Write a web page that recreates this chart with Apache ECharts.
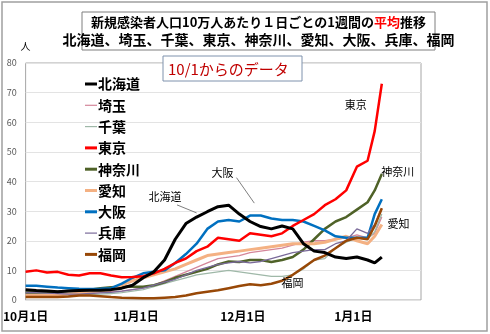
<!DOCTYPE html>
<html><head><meta charset="utf-8">
<script src="https://cdn.jsdelivr.net/npm/echarts@6/dist/echarts.min.js"></script>
<style>html,body{margin:0;padding:0;background:#fff}#c{width:490px;height:334px}</style>
</head><body><div id="c"></div>
<script>
// day index from Oct 1
const days = [0,3,6,9,12,15,18,21,24,27,30,33,36,39,42,45,48,51,54,57,60,63,66,69,72,75,78,81,84,87,90,93,96,98,100];
const names = ['北海道','埼玉','千葉','東京','神奈川','愛知','大阪','兵庫','福岡'];
const hokkaido = [3.5,3.2,3,2.8,3,3.2,3.3,3.3,3.5,4,5,7.5,9.5,13.5,20.5,25.8,28,29.8,31.5,32,29,26.5,24.8,24,25,24,19,16.5,16,14.5,14,14.5,13.5,12.5,14.5];
const saitama  = [2,2,1.8,1.8,2,2.2,2.4,2.6,2.8,3,3.5,4,5,6.5,8,9.5,11,12.5,14,14.5,15,16,16.5,17,17.5,18.5,19.5,20,20,20.5,21,22,21,22.5,28];
const chiba    = [1.5,1.5,1.4,1.4,1.5,1.6,1.8,2,2.2,2.5,3,3.5,4.5,5.5,6.5,7.5,8.5,9,9.5,10,9.5,9,8.5,8,8,8.5,10.5,13.5,14,17.5,19.5,21,20.5,23,29];
const tokyo    = [9.5,10,9.3,9.5,8.5,8.3,9,9,8.3,7.7,7.8,8,9,10.5,12.5,14,16.5,18,21,20.5,20,22.5,22,21.5,22.5,25,27,29,32,34,37,45,47,57,73];
const kanagawa = [2.5,2.5,2.6,2.8,3,3.2,3.5,4,4.3,4.5,4.5,4.5,5,6,7.5,8.5,9.5,10.5,12,13,12.8,13.5,13.5,12.8,13.5,14.5,17,20.5,24,26.5,28,30.5,33,37,42.5];
const aichi    = [1.5,1.5,1.6,1.8,2,2.3,2.5,3,3.5,5,6.5,7.5,8.5,9.5,10.5,12,13.5,15,15.5,16,16.5,17,17.5,18,18.5,19,19,19,19.5,20.5,21.5,20,19,21.5,25.5];
const osaka    = [4.8,4.8,4.5,4.2,4,3.8,3.7,3.8,4,5.5,7.5,9,9.5,10,12.5,15.5,19,24,26.5,27,26.5,28.5,28.5,27.5,27,27,26.5,25,23.5,21.5,21,21,21,29,34];
const hyogo    = [2.5,2.5,2.3,2.2,2,2,2.2,2.4,2.6,3,3.5,4,5,6,7,8.5,10,11,12,12.5,13,12.5,13,14,15,16,16.5,17,17,19,20,24,22.5,25.5,31];
const fukuoka  = [1,1,1,1,1.2,1.5,1.5,1.3,1,0.8,0.7,0.6,0.6,0.8,1,1.5,2.3,2.8,3.3,4,4.7,5.3,5,5.5,6.5,8.5,11,13.5,15,17.5,20,21,20.5,25,31];
const yTicks = [0,10,20,30,40,50,60,70,80];
const xTickDays = [0,31,61,92];
const xTickLabels = ['10月1日','11月1日','12月1日','1月1日'];

const colors = ['#000000','#d4869a','#9fb8a8','#ff0000','#4f6228','#f4b183','#0070c0','#7a6a9a','#984807'];
const widths = [3,1.3,1.3,2.5,2.5,3,2.5,1.3,2.5];
const values = [hokkaido,saitama,chiba,tokyo,kanagawa,aichi,osaka,hyogo,fukuoka];

const font = '"Noto Sans CJK JP", "Noto Sans", sans-serif';
const annot = (txt, c) => ({coord:c, value:txt, symbol:'circle', symbolSize:1, itemStyle:{color:'rgba(0,0,0,0)'},
  label:{show:true, position:'inside', formatter:txt, color:'#000', fontSize:11, fontFamily:font}});
const lead = (a,b) => [{coord:a},{coord:b}];

const series = names.map((n,i) => ({
  name:n, type:'line', showSymbol:false, symbol:'none', smooth:false,
  data: days.map((d,k)=>[d, values[i][k]]),
  lineStyle:{color:colors[i], width:widths[i]}, itemStyle:{color:colors[i]},
  z: i===0 ? 5 : (i===3 ? 4 : 2), animation:false
}));
series[0].markPoint = {silent:true, animation:false, data:[annot('北海道',[39.1,34.8])]};
series[0].markLine = {silent:true, animation:false, symbol:['none','none'], label:{show:false},
  lineStyle:{color:'#7f7f7f', width:1, type:'solid'}, data:[lead([42.5,32.1],[48.0,29.4])]};
series[6].markPoint = {silent:true, animation:false, data:[annot('大阪',[55.3,42.9])]};
series[6].markLine = {silent:true, animation:false, symbol:['none','none'], label:{show:false},
  lineStyle:{color:'#7f7f7f', width:1, type:'solid'}, data:[lead([59.2,41.3],[64.2,32.7])]};
series[3].markPoint = {silent:true, animation:false, data:[annot('東京',[92.7,65.8])]};
series[4].markPoint = {silent:true, animation:false, data:[annot('神奈川',[104.5,43.2])]};
series[5].markPoint = {silent:true, animation:false, data:[annot('愛知',[104.7,25.7])]};
series[8].markPoint = {silent:true, animation:false, data:[annot('福岡',[74.9,5.7])]};

const thickIcon = 'path://M0,0L12,0L12,3L0,3Z';
const thinIcon = 'path://M0,0L12,0L12,1.2L0,1.2Z';
const legendData = names.map((n,i) => ({name:n, icon: widths[i] >= 2 ? thickIcon : thinIcon,
  itemStyle:{color:colors[i], borderWidth:0}}));

const chart = echarts.init(document.getElementById('c'), null, {renderer:'canvas'});
chart.setOption({
  animation:false,
  backgroundColor:'#fff',
  textStyle:{fontFamily:font},
  grid:{left:23, top:63, right:69, bottom:34, show:true, borderColor:'#a6a6a6', borderWidth:1, backgroundColor:'transparent'},
  xAxis:{type:'value', min:0, max:111,
    axisLine:{show:false}, axisTick:{show:false}, splitLine:{show:false},
    axisLabel:{customValues:xTickDays, formatter:(v)=>xTickLabels[xTickDays.indexOf(v)] || '',
      color:'#000', fontWeight:'bold', fontSize:12, margin:10, fontFamily:font}},
  yAxis:{type:'value', min:0, max:80, interval:10,
    name:'人', nameLocation:'end', nameGap:12, nameTextStyle:{color:'#000', fontSize:10, align:'center', fontFamily:font},
    axisLine:{show:false}, axisTick:{show:false},
    splitLine:{lineStyle:{color:'#e3e3e3', width:1}},
    axisLabel:{color:'#595959', fontSize:9, margin:9, formatter:(v)=> yTicks.includes(v) ? String(v) : ''}},
  legend:{orient:'vertical', left:80, top:72, itemWidth:12, itemHeight:14, itemGap:7.3, symbolKeepAspect:true,
    data:legendData,
    textStyle:{color:'#000', fontSize:14, fontWeight:'bold', fontFamily:font, padding:[0,0,0,-4]}},
  series:series,
  graphic:[
    {type:'rect', shape:{x:2, y:2, width:485, height:329}, style:{fill:'none', stroke:'#a0a0a0', lineWidth:1.5}, z:100},
    {type:'rect', shape:{x:82, y:12, width:353, height:38}, style:{fill:'#fff', stroke:'#7f7f7f', lineWidth:1}, z:100},
    {type:'text', x:258.5, y:22, z:101, style:{text:'新規感染者人口10万人あたり１日ごとの1週間の{r|平均}推移',
      align:'center', verticalAlign:'middle', fill:'#000', font:'bold 13px '+font,
      rich:{r:{fill:'#ff0000', font:'bold 13px '+font}}}},
    {type:'text', x:258.5, y:40, z:101, style:{text:'北海道、埼玉、千葉、東京、神奈川、愛知、大阪、兵庫、福岡',
      align:'center', verticalAlign:'middle', fill:'#000', font:'bold 14px '+font}},
    {type:'rect', shape:{x:163, y:56, width:139, height:25}, style:{fill:'#fff', stroke:'#7f92ad', lineWidth:1}, z:100},
    {type:'text', x:168, y:69, z:101, style:{text:'10/1からのデータ', align:'left', verticalAlign:'middle',
      fill:'#c00000', font:'15px '+font}}
  ]
});
</script></body></html>
